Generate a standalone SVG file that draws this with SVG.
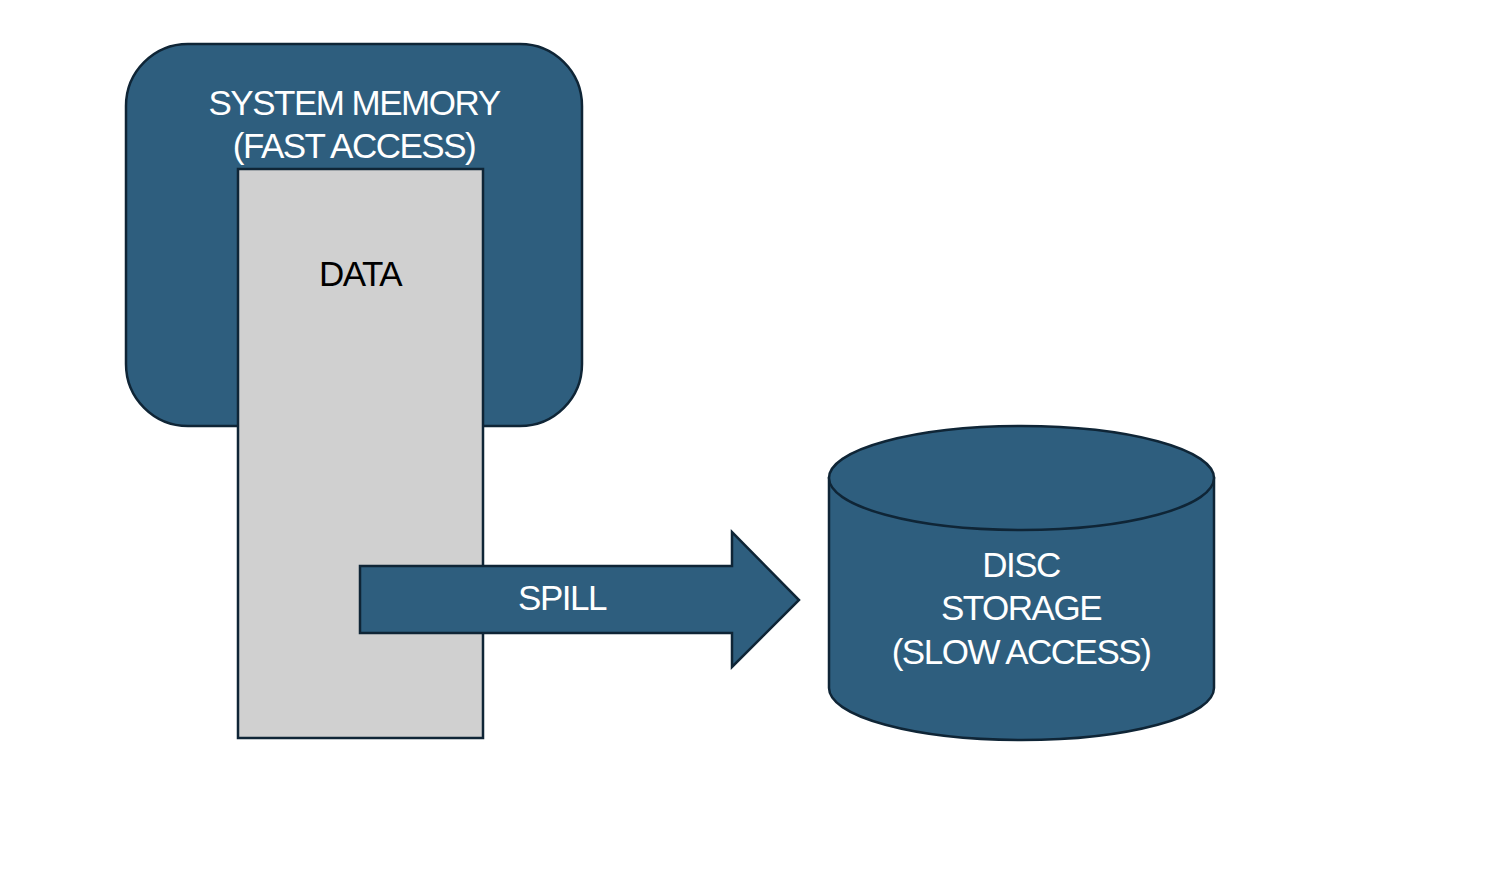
<svg xmlns="http://www.w3.org/2000/svg" width="1508" height="890" viewBox="0 0 1508 890">
<style>
.shape{fill:#2e5e7e;stroke:#0f2536;stroke-width:2.5}
.data{fill:#d0d0d0;stroke:#0f2536;stroke-width:2.5}
.t{font-family:"Liberation Sans",Arial,sans-serif;font-size:35px;letter-spacing:-1.5px;text-anchor:middle}
.w{fill:#ffffff}
.k{fill:#000000}
</style>
<rect width="1508" height="890" fill="#ffffff"/>
<g id="memory">
<rect class="shape" x="126" y="44" width="456" height="382" rx="62" ry="62"/>
<text class="t w" x="354" y="115">SYSTEM MEMORY</text>
<text class="t w" x="354" y="158">(FAST ACCESS)</text>
</g>
<g id="data">
<rect class="data" x="238" y="169" width="245" height="569"/>
<text class="t k" x="360" y="286">DATA</text>
</g>
<g id="connectors">
<g id="spill">
<path class="shape" d="M360,566 L732,566 L732,532 L799,600 L732,667 L732,633 L360,633 Z"/>
<text class="t w" x="562" y="610">SPILL</text>
</g>
</g>
<g id="disc">
<path class="shape" d="M829,478 L829,688 A192.5,52 0 0 0 1214,688 L1214,478 Z"/>
<ellipse class="shape" cx="1021.5" cy="478" rx="192.5" ry="52"/>
<text class="t w" x="1021" y="577">DISC</text>
<text class="t w" x="1021" y="620">STORAGE</text>
<text class="t w" x="1021" y="664">(SLOW ACCESS)</text>
</g>
</svg>
